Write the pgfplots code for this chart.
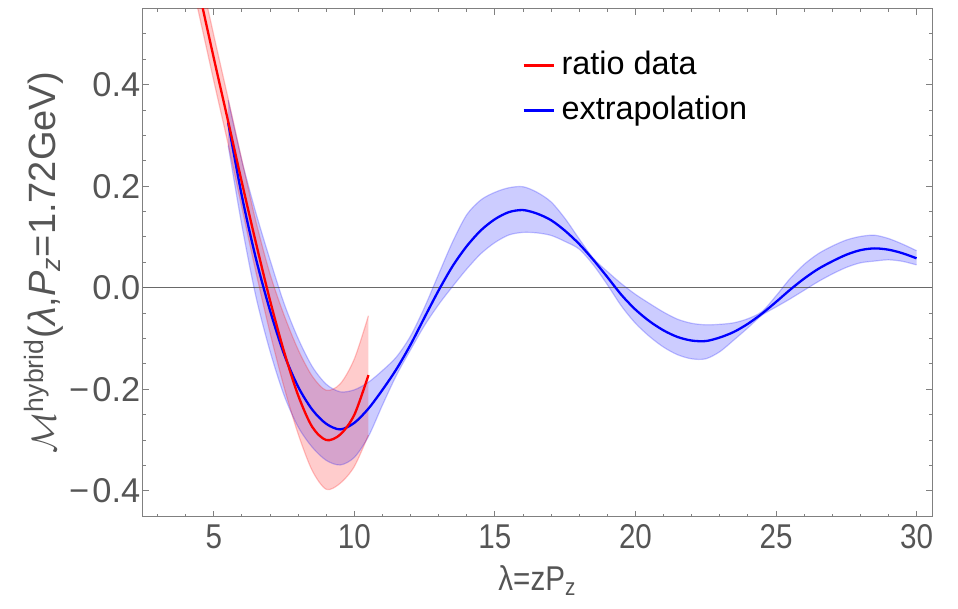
\documentclass[border=0pt]{standalone}
\usepackage{fontspec}
\setmainfont{Liberation Sans}
\usepackage{graphicx}
\usepackage{pgfplots}
\pgfplotsset{compat=1.18}
\usepgfplotslibrary{fillbetween}

\definecolor{framegray}{RGB}{128,128,128}
\definecolor{labelgray}{RGB}{85,85,85}
\definecolor{zerogray}{RGB}{105,105,105}
\newcommand\tickfont{\fontsize{17.2}{20}\selectfont}
\newcommand\legfont{\fontsize{16.2}{19}\selectfont}
\newcommand\nx[1]{\scalebox{0.86}[1]{#1}}
\newcommand\mn{−\kern1.6pt}

\begin{document}
\begin{tikzpicture}
\begin{axis}[
    scale only axis, width=394.6pt, height=253.85pt,
    xmin=2.47, xmax=30.55, ymin=-0.451, ymax=0.549,
    axis line style={framegray, line width=0.5pt},
    tick align=inside,
    tick style={framegray, line width=0.5pt},
    major tick length=2.9pt, minor tick length=1.6pt,
    xtick={5,10,15,20,25,30},
    xticklabels={\nx{5},\nx{10},\nx{15},\nx{20},\nx{25},\nx{30}},
    minor xtick={3,4,6,7,8,9,11,12,13,14,16,17,18,19,21,22,23,24,26,27,28,29},
    ytick={-0.4,-0.2,0,0.2,0.4},
    yticklabels={\mn0.4,\mn0.2,0.0,0.2,0.4},
    minor ytick={-0.35,-0.3,-0.25,-0.15,-0.1,-0.05,0.05,0.1,0.15,0.25,0.3,0.35,0.45,0.5},
    ticklabel style={font=\tickfont, text=labelgray},
    xticklabel style={yshift=-0.5pt},
    yticklabel style={xshift=2.3pt},
    xlabel={\nx{λ=zP\textsubscript{z}}},
    ylabel={$\mathcal{M}$\textsuperscript{hybrid}(\textit{λ},\textit{P}\textsubscript{\textit{z}}=1.72GeV)},
    xlabel style={at={(axis description cs:0.5,0)}, anchor=center, yshift=-31.7pt, font=\tickfont, text=labelgray},
    ylabel style={at={(axis description cs:0,0.5)}, anchor=center, yshift=49.5pt, font=\fontsize{19}{22}\selectfont, text=labelgray},
    legend style={at={(axis description cs:0.4805,0.9236)}, anchor=north west, draw=none, fill=none,
        inner sep=0pt, row sep=5.3pt, column sep=2pt, font=\legfont,
        nodes={inner sep=1.5pt, text depth=0.25em}},
    legend cell align=left,
    legend image code/.code={\draw[#1] (0pt,0pt) -- (15pt,0pt);},
]
\coordinate (bl) at (rel axis cs:0,0);
\coordinate (tr) at (rel axis cs:1,1);

% zero axis
\addplot[forget plot, zerogray, line width=0.5pt] coordinates {(2.47,0) (30.55,0)};

% extrapolation band
\addplot[forget plot, name path=bu, blue, opacity=0.22, line width=0.6pt, smooth] coordinates {
(5.51,0.370) (6.0,0.250) (6.5,0.147) (7.0,0.055) (7.5,-0.031) (8.0,-0.100) (8.5,-0.155)
(9.0,-0.190) (9.5,-0.205) (10.0,-0.201) (10.5,-0.186) (11.0,-0.163) (11.5,-0.136)
(12.0,-0.095) (12.5,-0.038) (13.0,0.027) (13.5,0.091) (14.0,0.144) (14.5,0.173)
(15.0,0.188) (15.5,0.197) (16.0,0.199) (16.5,0.188) (17.0,0.169) (17.5,0.136)
(18.0,0.096) (18.5,0.058) (19.0,0.032) (19.5,0.008) (20.0,-0.013) (20.5,-0.031)
(21.0,-0.048) (21.5,-0.062) (22.0,-0.070) (22.5,-0.073) (23.0,-0.072) (23.5,-0.069)
(24.0,-0.061) (24.5,-0.047) (25.0,-0.016) (25.5,0.018) (26.0,0.046) (26.5,0.067)
(27.0,0.082) (27.5,0.094) (28.0,0.101) (28.5,0.1035) (29.0,0.097) (29.5,0.086) (30.0,0.073)};
\addplot[forget plot, name path=bl, blue, opacity=0.22, line width=0.6pt, smooth] coordinates {
(5.51,0.280) (6.0,0.122) (6.5,-0.018) (7.0,-0.125) (7.5,-0.212) (8.0,-0.274) (8.5,-0.314)
(9.0,-0.340) (9.5,-0.349) (10.0,-0.334) (10.5,-0.293) (11.0,-0.231) (11.5,-0.172)
(12.0,-0.122) (12.5,-0.074) (13.0,-0.033) (13.5,0.003) (14.0,0.037) (14.5,0.067)
(15.0,0.089) (15.5,0.104) (16.0,0.109) (16.5,0.108) (17.0,0.103) (17.5,0.091)
(18.0,0.076) (18.5,0.045) (19.0,0.006) (19.5,-0.036) (20.0,-0.070) (20.5,-0.096)
(21.0,-0.117) (21.5,-0.132) (22.0,-0.140) (22.5,-0.140) (23.0,-0.126) (23.5,-0.103)
(24.0,-0.079) (24.5,-0.054) (25.0,-0.038) (25.5,-0.022) (26.0,-0.005) (26.5,0.012)
(27.0,0.027) (27.5,0.040) (28.0,0.049) (28.5,0.0525) (29.0,0.055) (29.5,0.052) (30.0,0.045)};
\addplot[forget plot, blue, fill opacity=0.2, draw=none] fill between[of=bu and bl];

% extrapolation central curve
\addplot[forget plot, blue, line width=1.15pt, smooth] coordinates {
(5.51,0.325) (6.0,0.180) (6.5,0.057) (7.0,-0.045) (7.5,-0.131) (8.0,-0.195) (8.5,-0.240)
(9.0,-0.268) (9.5,-0.279) (10.0,-0.266) (10.5,-0.238) (11.0,-0.201) (11.5,-0.160)
(12.0,-0.112) (12.5,-0.058) (13.0,-0.005) (13.5,0.043) (14.0,0.082) (14.5,0.113)
(15.0,0.135) (15.5,0.149) (16.0,0.153) (16.5,0.146) (17.0,0.133) (17.5,0.112)
(18.0,0.086) (18.5,0.055) (19.0,0.021) (19.5,-0.014) (20.0,-0.043) (20.5,-0.066)
(21.0,-0.084) (21.5,-0.097) (22.0,-0.104) (22.5,-0.105) (23.0,-0.098) (23.5,-0.087)
(24.0,-0.071) (24.5,-0.051) (25.0,-0.028) (25.5,-0.004) (26.0,0.018) (26.5,0.037)
(27.0,0.052) (27.5,0.065) (28.0,0.074) (28.5,0.0775) (29.0,0.075) (29.5,0.068) (30.0,0.058)};

% ratio data band
\addplot[forget plot, name path=ru, red, opacity=0.22, line width=0.6pt, smooth] coordinates {
(4.3,0.672) (4.5,0.622) (5.0,0.497) (5.5,0.375) (6.0,0.251) (6.5,0.130) (7.0,0.027)
(7.5,-0.054) (8.0,-0.122) (8.5,-0.174) (9.0,-0.202) (9.5,-0.189) (10.0,-0.140) (10.5,-0.055)};
\addplot[forget plot, name path=rl, red, opacity=0.22, line width=0.6pt, smooth] coordinates {
(4.3,0.582) (4.5,0.532) (5.0,0.407) (5.5,0.285) (6.0,0.157) (6.5,0.030) (7.0,-0.089)
(7.5,-0.196) (8.0,-0.288) (8.5,-0.360) (9.0,-0.397) (9.5,-0.385) (10.0,-0.352) (10.5,-0.290)};
\addplot[forget plot, red, fill opacity=0.2, draw=none] fill between[of=ru and rl];

% ratio data central curve
\addplot[forget plot, red, line width=1.15pt, smooth] coordinates {
(4.3,0.627) (4.5,0.577) (5.0,0.452) (5.5,0.330) (6.0,0.207) (6.5,0.088) (7.0,-0.025)
(7.5,-0.126) (8.0,-0.212) (8.5,-0.274) (9.0,-0.300) (9.5,-0.289) (10.0,-0.250) (10.5,-0.172)};

\addlegendimage{red, line width=1.15pt}
\addlegendentry{ratio data}
\addlegendimage{blue, line width=1.15pt}
\addlegendentry{extrapolation}
\end{axis}
\pgfresetboundingbox
\path[use as bounding box] ([xshift=-71.35pt,yshift=-45.65pt]bl) rectangle ([xshift=13pt,yshift=4.5pt]tr);
\end{tikzpicture}
\end{document}
